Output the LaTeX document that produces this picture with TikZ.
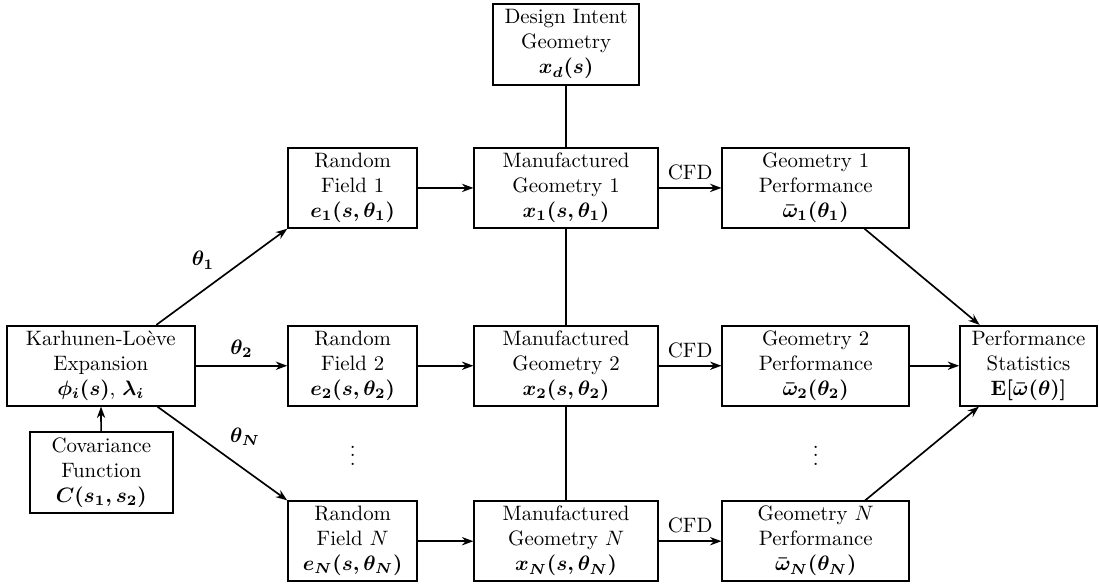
\documentclass[tikz,border=0pt]{standalone}
\usepackage{amsmath}
\usepackage{amssymb}
\usepackage{tikz}
\usetikzlibrary{arrows.meta}
\newcommand{\italN}{\mbox{\unboldmath$N$}}

\begin{document}
\begin{tikzpicture}[font=\boldmath]
            \tikzset{block/.style = {draw, thick, align=center, minimum height=1.35cm, inner sep=2pt}}
            \tikzset{edge/.style = {thick, -{Stealth[length=5.5pt,width=4pt]}}}
            \tikzset{link/.style = {thick}}
            \useasboundingbox (0,0) rectangle (18.54,-9.84);

            % blocks
            \node[block, minimum width=2.46cm, minimum height=1.37cm] (design) at (9.55,-0.75) {Design Intent\\Geometry\\$x_d(s)$};
            \node[block, minimum width=3.17cm] (kl) at (1.70,-6.17) {Karhunen-Loève\\Expansion\\$\phi_i(s)$, $\lambda_i$};
            \node[block, minimum width=2.41cm, minimum height=1.37cm] (cov) at (1.71,-7.97) {Covariance\\Function\\$C(s_1,s_2)$};
            \node[block, minimum width=2.31cm] (perf) at (17.35,-6.17) {Performance\\Statistics\\$\mathbf{E}[\bar{\omega}(\theta)]$};
            \foreach \k/\y/\lab in {1/-3.17/1, 2/-6.17/2, N/-9.13/\italN}
            {
              \node[block, minimum width=2.18cm] (rf\k) at (5.95,\y) {Random\\Field \lab\\$e_{\k}(s,\theta_{\k})$};
              \node[block, minimum width=3.10cm] (mfg\k) at (9.55,\y) {Manufactured\\Geometry \lab\\$x_{\k}(s,\theta_{\k})$};
              \node[block, minimum width=3.15cm] (geo\k) at (13.76,\y) {Geometry \lab\\Performance\\$\bar{\omega}_{\k}(\theta_{\k})$};
            }
            \node (dotsrf) at (5.95,-7.58) {$\vdots$};
            \node (dotsgeo) at (13.76,-7.58) {$\vdots$};

            % edges
            \draw[edge] (cov) -- (kl);
            \draw[edge] (kl) -- node[above left] {$\theta_1$} (rf1.south west);
            \draw[edge] (kl) -- node[above] {$\theta_2$} (rf2);
            \draw[edge] (kl) -- node[above right] {$\theta_N$} (rfN.north west);
            \foreach \k in {1,2,N}
            {
              \draw[edge] (rf\k) -- (mfg\k);
              \draw[edge] (mfg\k) -- node[above] {CFD} (geo\k);
              \draw[edge] (geo\k) -- (perf);
            }
            \draw[link] (design) -- (mfg1);
            \draw[link] (mfg1) -- (mfg2);
            \draw[link] (mfg2) -- (mfgN);

          \end{tikzpicture}
\end{document}
